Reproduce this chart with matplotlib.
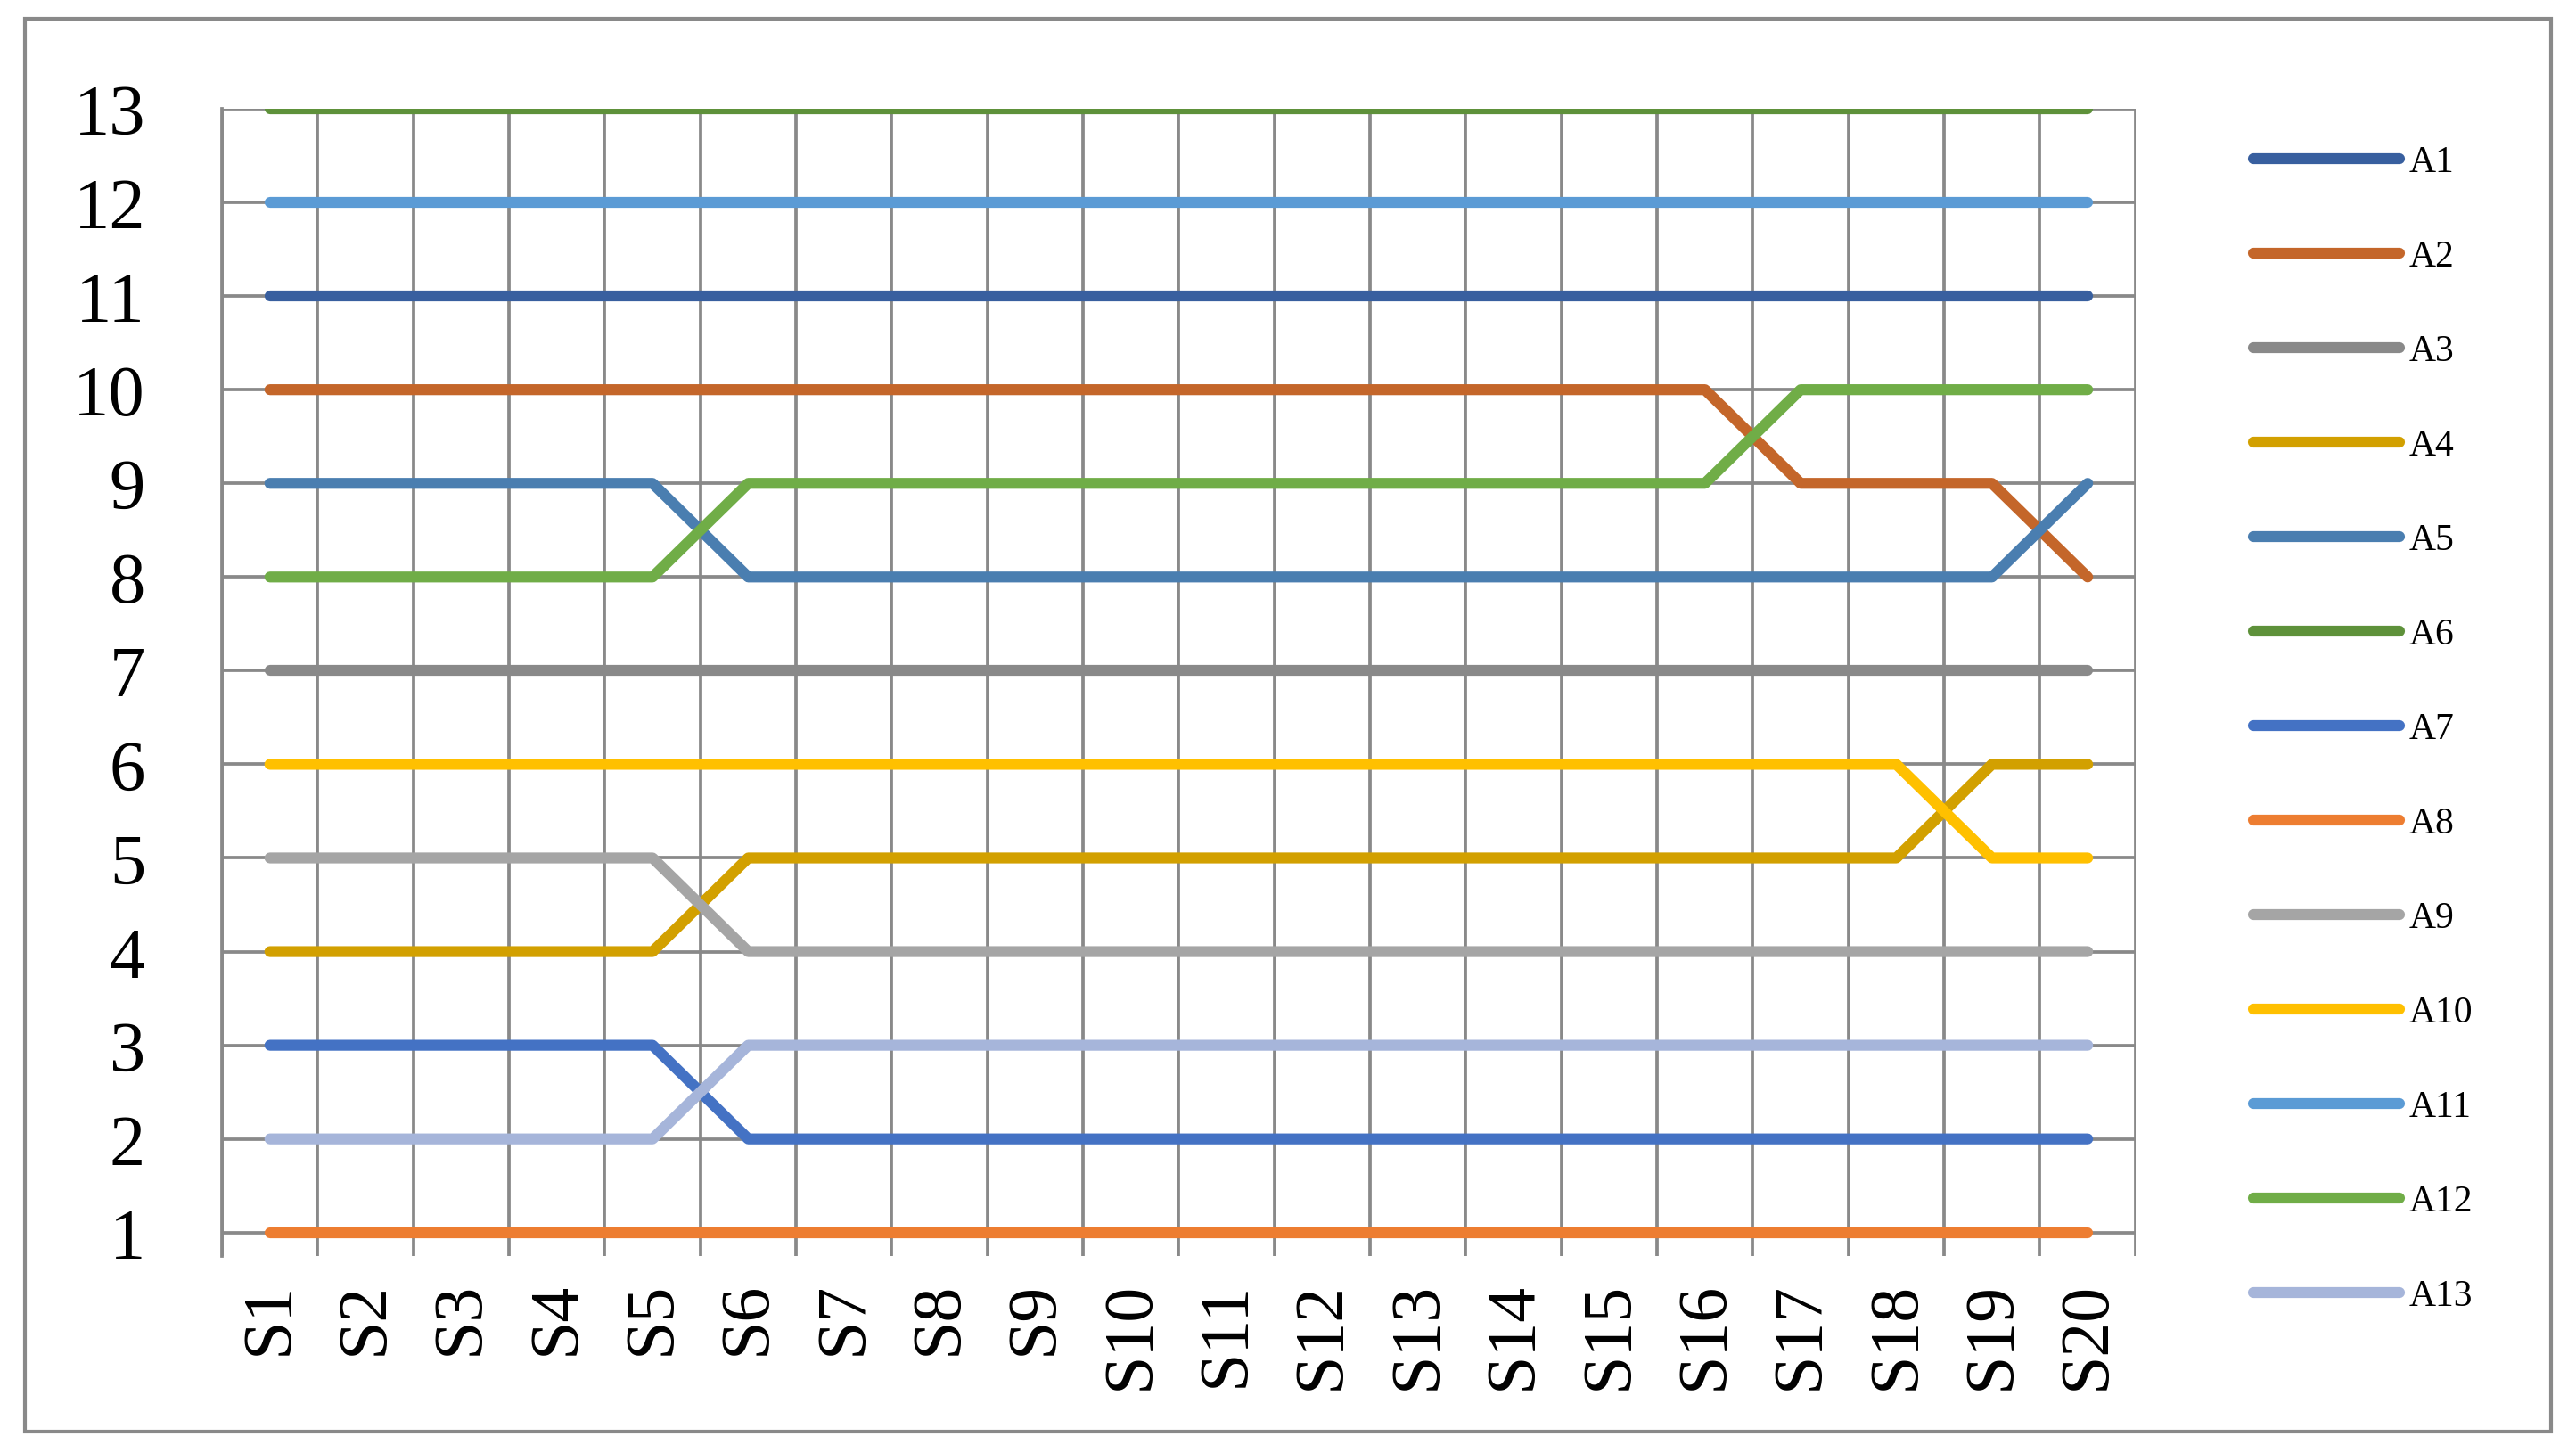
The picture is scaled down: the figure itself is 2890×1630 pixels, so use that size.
import matplotlib.pyplot as plt
from matplotlib.patches import Rectangle

stages = ['S%d' % i for i in range(1, 21)]

# rank of each alternative at every stage
A1 = [11] * 20
A2 = [10] * 16 + [9] * 3 + [8]
A3 = [7] * 20
A4 = [4] * 5 + [5] * 13 + [6] * 2
A5 = [9] * 5 + [8] * 14 + [9]
A6 = [13] * 20
A7 = [3] * 5 + [2] * 15
A8 = [1] * 20
A9 = [5] * 5 + [4] * 15
A10 = [6] * 18 + [5] * 2
A11 = [12] * 20
A12 = [8] * 5 + [9] * 11 + [10] * 4
A13 = [2] * 5 + [3] * 15

names = ['A%d' % i for i in range(1, 14)]
series = [A1, A2, A3, A4, A5, A6, A7, A8, A9, A10, A11, A12, A13]
colors = ['#385F9F', '#C4662A', '#898989', '#D2A000', '#4A7EB0', '#5E913A',
          '#4472C4', '#ED7D31', '#A5A5A5', '#FFC000', '#5B9BD5', '#70AD47',
          '#A6B5DA']

grid_c = '#898989'
plt.rcParams['font.family'] = ['Liberation Serif', 'DejaVu Serif']

fig = plt.figure(figsize=(28.9, 16.31), dpi=100)
ax = fig.add_axes([0.0862, 0.1355, 0.7428, 0.7891])

x = list(range(len(stages)))
for name, vals, c in zip(names, series, colors):
    ax.plot(x, vals, color=c, lw=8.8, label=name, solid_capstyle='round')

ax.set_xlim(-0.5, len(stages) - 0.5)
ax.set_ylim(0.75, 13)
ax.set_yticks(range(1, 14))
ax.set_xticks(x)
ax.set_xticklabels(stages, rotation=90)
ax.set_xticks([i - 0.5 for i in range(len(stages) + 1)], minor=True)

ax.grid(True, which='minor', axis='x', color=grid_c, lw=2.7)
ax.grid(True, which='major', axis='y', color=grid_c, lw=2.7)
ax.set_axisbelow(True)

for s in ['top', 'right', 'bottom']:
    ax.spines[s].set_visible(False)
ax.spines['left'].set_color(grid_c)
ax.spines['left'].set_linewidth(2.7)

ax.tick_params(axis='x', which='major', length=0, labelsize=56, pad=20)
ax.tick_params(axis='y', which='major', length=0, labelsize=58, pad=62)
ax.tick_params(axis='x', which='minor', length=0)

fig.legend(loc='upper left', bbox_to_anchor=(0.8746, 0.8997), frameon=False,
           fontsize=30, handlelength=3.95, handletextpad=0.25, labelspacing=1.62,
           borderpad=0, borderaxespad=0)

fig.patches.append(Rectangle((0.0097, 0.0147), 0.9806, 0.9718, fill=False,
                             edgecolor=grid_c, lw=3, transform=fig.transFigure))

fig.savefig('out.png', dpi=100)
